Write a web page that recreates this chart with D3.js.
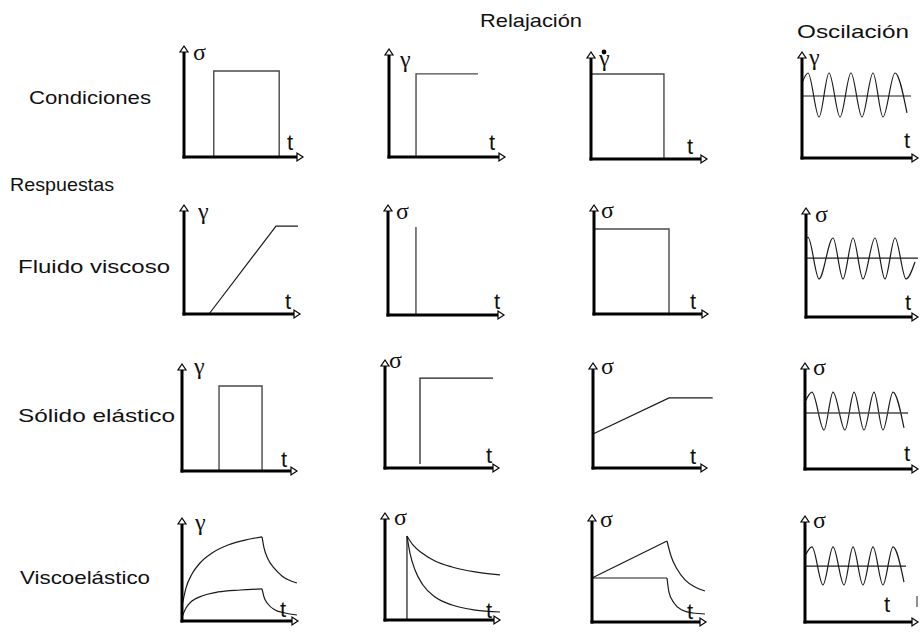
<!DOCTYPE html>
<html>
<head>
<meta charset="utf-8">
<script src="https://cdn.jsdelivr.net/npm/d3@7"></script>
<style>
  body { margin: 0; background: #fff; }
  svg { display: block; }
</style>
</head>
<body>
<svg id="chart" width="920" height="634"></svg>
<script>
// ---------- text content ----------
const columnHeadings = ["Relajación", "Oscilación"];
const rowHeadings = ["Condiciones", "Respuestas", "Fluido viscoso", "Sólido elástico", "Viscoelástico"];
const axisSymbols = [
  "σ", "γ", "γ", "γ",
  "γ", "σ", "σ", "σ",
  "γ", "σ", "σ", "σ",
  "γ", "σ", "σ", "σ"
];
const timeSymbol = "t";
// panel index whose symbol carries a rate dot (shear rate)
const rateSymbolPanel = 2;

// ---------- series (time 0–10, magnitude 0–10 on each panel) ----------
// Row 1: imposed conditions
const creepStress   = [[2.5, 0], [2.5, 7.75], [8.0, 7.75], [8.0, 0]];
const relaxStrain   = [[2.33, 0], [2.33, 7.7], [7.67, 7.7]];
const rateStep      = [[0, 7.94], [6.29, 7.94], [6.29, 0]];
const oscStrain     = [[0, 7.08], [0.52, 8.02], [1.47, 3.87], [2.33, 8.02], [3.28, 3.87], [4.22, 8.02],
                       [5.17, 3.87], [6.12, 8.02], [6.98, 3.87], [8.02, 8.02], [9.05, 4.25]];
const oscStrainMean = [[0, 5.85], [9.4, 5.85]];

// Row 2: viscous fluid
const fluidCreep    = [[2.16, 0], [7.93, 8.07], [9.83, 8.07]];
const fluidRelax    = [[2.41, 0], [2.41, 8.0]];
const fluidRate     = [[0, 7.8], [6.58, 7.8], [6.58, 0]];
const fluidOsc      = [[0, 7.25], [0.18, 7.3], [1.16, 3.49], [2.41, 7.25], [3.3, 3.49], [4.2, 7.25],
                       [5.09, 3.49], [6.16, 7.25], [7.05, 3.49], [7.95, 7.25], [8.93, 3.49], [9.73, 5.05]];
const fluidOscMean  = [[0, 5.41], [10, 5.41]];

// Row 3: elastic solid
const solidCreep    = [[3.22, 0], [3.22, 7.94], [6.96, 7.94], [6.96, 0]];
const solidRelax    = [[3.07, 0.37], [3.07, 8.33], [9.47, 8.33]];
const solidRate     = [[0, 3.24], [6.67, 6.67], [10.5, 6.67]];
const solidOsc      = [[0, 6.32], [0.62, 7.26], [1.68, 3.68], [2.48, 7.26], [3.54, 3.68], [4.34, 7.26],
                       [5.22, 3.68], [6.11, 7.26], [6.9, 3.68], [7.79, 7.26], [8.76, 3.87]];
const solidOscMean  = [[0, 5.28], [9.12, 5.28]];

// Row 4: viscoelastic
const veCreepUpperRise  = [[0, 1.46], [0.34, 3.2], [0.86, 4.56], [1.55, 5.63], [2.59, 6.6],
                           [3.97, 7.38], [5.43, 7.86], [6.9, 8.16]];
const veCreepUpperFall  = [[6.9, 8.16], [7.07, 7.09], [7.41, 6.02], [7.93, 5.15], [8.62, 4.37], [9.91, 3.69]];
const veCreepLowerRise  = [[0, 0.39], [0.34, 1.26], [0.86, 1.94], [1.72, 2.43], [3.1, 2.82],
                           [5.0, 3.01], [6.9, 3.11]];
const veCreepLowerFall  = [[6.9, 3.11], [7.07, 2.33], [7.41, 1.65], [8.02, 1.07], [8.88, 0.78], [9.91, 0.58]];
const veRelaxStep       = [[1.91, 0], [1.91, 7.85]];
const veRelaxSlow       = [[1.91, 7.85], [2.43, 7.01], [3.22, 6.26], [4.35, 5.51], [5.83, 4.95], [7.83, 4.49], [10.0, 4.21]];
const veRelaxFast       = [[1.91, 7.85], [2.17, 6.26], [2.61, 4.67], [3.3, 3.27], [4.35, 2.15], [5.83, 1.4], [7.83, 0.93], [10.0, 0.75]];
const veRateRamp        = [[0, 4.11], [6.58, 7.57]];
const veRateRampFall    = [[6.58, 7.57], [6.93, 6.17], [7.46, 4.95], [8.16, 3.93], [9.04, 3.27], [9.91, 2.9]];
const veRateFlat        = [[0, 4.11], [6.58, 4.11]];
const veRateFlatFall    = [[6.58, 4.11], [6.75, 2.8], [7.19, 1.78], [7.89, 1.12], [8.86, 0.84], [9.91, 0.75]];
const veOsc             = [[0, 6.23], [0.62, 7.08], [1.59, 3.49], [2.48, 7.08], [3.45, 3.49], [4.25, 7.08],
                           [5.13, 3.49], [6.02, 7.08], [6.9, 3.49], [7.79, 7.08], [8.76, 3.77]];
const veOscMean         = [[0, 5.28], [8.94, 5.28]];

// series per panel: [points, smooth, kind]
const panelSeries = [
  [[creepStress, false, "step"]],
  [[relaxStrain, false, "step"]],
  [[rateStep, false, "step"]],
  [[oscStrain, true, "curve"], [oscStrainMean, false, "curve"]],

  [[fluidCreep, false, "curve"]],
  [[fluidRelax, false, "step"]],
  [[fluidRate, false, "step"]],
  [[fluidOsc, true, "curve"], [fluidOscMean, false, "curve"]],

  [[solidCreep, false, "step"]],
  [[solidRelax, false, "curve"]],
  [[solidRate, false, "curve"]],
  [[solidOsc, true, "curve"], [solidOscMean, false, "step"]],

  [[veCreepUpperRise, true, "curve"], [veCreepUpperFall, true, "curve"],
   [veCreepLowerRise, true, "curve"], [veCreepLowerFall, true, "curve"]],
  [[veRelaxStep, false, "curve"], [veRelaxSlow, true, "curve"], [veRelaxFast, true, "curve"]],
  [[veRateRamp, false, "curve"], [veRateRampFall, true, "curve"],
   [veRateFlat, false, "curve"], [veRateFlatFall, true, "curve"]],
  [[veOsc, true, "curve"], [veOscMean, false, "curve"]]
];

// ---------- layout ----------
// x0,y0: axis corner; x1: x-arrow tip; y1: y-arrow tip
const panelBoxes = [
  {x0: 184, y0: 157, x1: 303, y1: 46,  sym: [193, 60],  t: [287, 150]},
  {x0: 389, y0: 157, x1: 505, y1: 49,  sym: [400, 67],  t: [489, 150]},
  {x0: 591, y0: 159, x1: 707, y1: 52,  sym: [599, 66],  t: [687, 154], dot: [604, 52]},
  {x0: 802, y0: 158, x1: 918, y1: 52,  sym: [809, 65],  t: [904, 148]},

  {x0: 184, y0: 314, x1: 300, y1: 205, sym: [198, 219], t: [285, 309]},
  {x0: 388, y0: 315, x1: 504, y1: 205, sym: [396, 219], t: [494, 309]},
  {x0: 594, y0: 314, x1: 708, y1: 205, sym: [601, 218], t: [690, 309]},
  {x0: 806, y0: 317, x1: 918, y1: 208, sym: [815, 222], t: [905, 310]},

  {x0: 182, y0: 471, x1: 297, y1: 364, sym: [194, 374], t: [281, 467]},
  {x0: 385, y0: 468, x1: 499, y1: 360, sym: [389, 368], t: [486, 463]},
  {x0: 593, y0: 468, x1: 707, y1: 363, sym: [601, 374], t: [690, 464]},
  {x0: 805, y0: 469, x1: 918, y1: 363, sym: [813, 375], t: [904, 461]},

  {x0: 182, y0: 621, x1: 298, y1: 518, sym: [195, 530], t: [280, 617]},
  {x0: 385, y0: 620, x1: 500, y1: 513, sym: [394, 525], t: [486, 618]},
  {x0: 592, y0: 622, x1: 706, y1: 515, sym: [600, 527], t: [687, 619]},
  {x0: 805, y0: 622, x1: 918, y1: 516, sym: [813, 528], t: [884, 612]}
];

// heading placement: [x, baseline, width]
const columnHeadingPos = [[480, 27, 102], [797, 38, 112]];
const rowHeadingPos = [[29, 104, 122], [10, 191, 104], [18, 273, 152], [18, 422, 157], [20, 584, 130]];

const svg = d3.select("#chart");
const sansFont = "Arial, 'Liberation Sans', sans-serif";
const greekFont = "'Liberation Serif', 'DejaVu Serif', serif";

// ---------- headings ----------
function heading(text, pos) {
  svg.append("text")
    .attr("x", pos[0]).attr("y", pos[1])
    .attr("textLength", pos[2]).attr("lengthAdjust", "spacingAndGlyphs")
    .attr("font-family", sansFont).attr("font-size", 18.5)
    .attr("fill", "#111")
    .text(text);
}
columnHeadings.forEach((h, i) => heading(h, columnHeadingPos[i]));
rowHeadings.forEach((h, i) => heading(h, rowHeadingPos[i]));

// ---------- panels ----------
const arrowLen = 6, arrowHalf = 4;

panelBoxes.forEach((p, i) => {
  const x = d3.scaleLinear().domain([0, 10]).range([p.x0, p.x1]);
  const y = d3.scaleLinear().domain([0, 10]).range([p.y0, p.y1]);
  const g = svg.append("g");

  // response / condition curves
  panelSeries[i].forEach(([pts, smooth, kind]) => {
    const line = d3.line()
      .x(d => x(d[0])).y(d => y(d[1]))
      .curve(smooth ? d3.curveMonotoneX : d3.curveLinear);
    g.append("path")
      .datum(pts)
      .attr("d", line)
      .attr("fill", "none")
      .attr("stroke", kind === "step" ? "#4a4a4a" : "#1a1a1a")
      .attr("stroke-width", kind === "step" ? 1.4 : 1.2);
  });

  // axes without ticks, ending at the arrow bases
  const xAxisScale = x.copy().range([p.x0, p.x1 - arrowLen + 1]);
  const yAxisScale = y.copy().range([p.y0, p.y1 + arrowLen - 1]);
  const xa = g.append("g").attr("transform", `translate(0,${p.y0})`)
    .call(d3.axisBottom(xAxisScale).tickValues([]).tickSizeOuter(0).offset(0));
  const ya = g.append("g").attr("transform", `translate(${p.x0},0)`)
    .call(d3.axisLeft(yAxisScale).tickValues([]).tickSizeOuter(0).offset(0));
  [xa, ya].forEach(a => a.select(".domain")
    .attr("stroke", "#000").attr("stroke-width", 3).attr("stroke-linecap", "square"));

  // open arrowheads
  const tipX = x(10), tipY = y(10);
  g.append("path")
    .attr("d", `M${tipX},${p.y0}L${tipX - arrowLen},${p.y0 - arrowHalf}L${tipX - arrowLen},${p.y0 + arrowHalf}Z`)
    .attr("fill", "#fff").attr("stroke", "#000").attr("stroke-width", 1.2);
  g.append("path")
    .attr("d", `M${p.x0},${tipY}L${p.x0 - arrowHalf},${tipY + arrowLen}L${p.x0 + arrowHalf},${tipY + arrowLen}Z`)
    .attr("fill", "#fff").attr("stroke", "#000").attr("stroke-width", 1.2);

  // axis symbols
  g.append("text")
    .attr("x", p.sym[0]).attr("y", p.sym[1])
    .attr("font-family", greekFont).attr("font-size", 24)
    .attr("fill", "#111")
    .text(axisSymbols[i]);
  if (i === rateSymbolPanel && p.dot) {
    g.append("circle").attr("cx", p.dot[0]).attr("cy", p.dot[1]).attr("r", 2.4).attr("fill", "#000");
  }
  g.append("text")
    .attr("x", p.t[0]).attr("y", p.t[1])
    .attr("font-family", sansFont).attr("font-size", 22)
    .attr("fill", "#111")
    .text(timeSymbol);
});

// small tick mark beside the last oscillation panel
svg.append("line")
  .attr("x1", 917).attr("x2", 917).attr("y1", 596).attr("y2", 607)
  .attr("stroke", "#222").attr("stroke-width", 1);
</script>
</body>
</html>
